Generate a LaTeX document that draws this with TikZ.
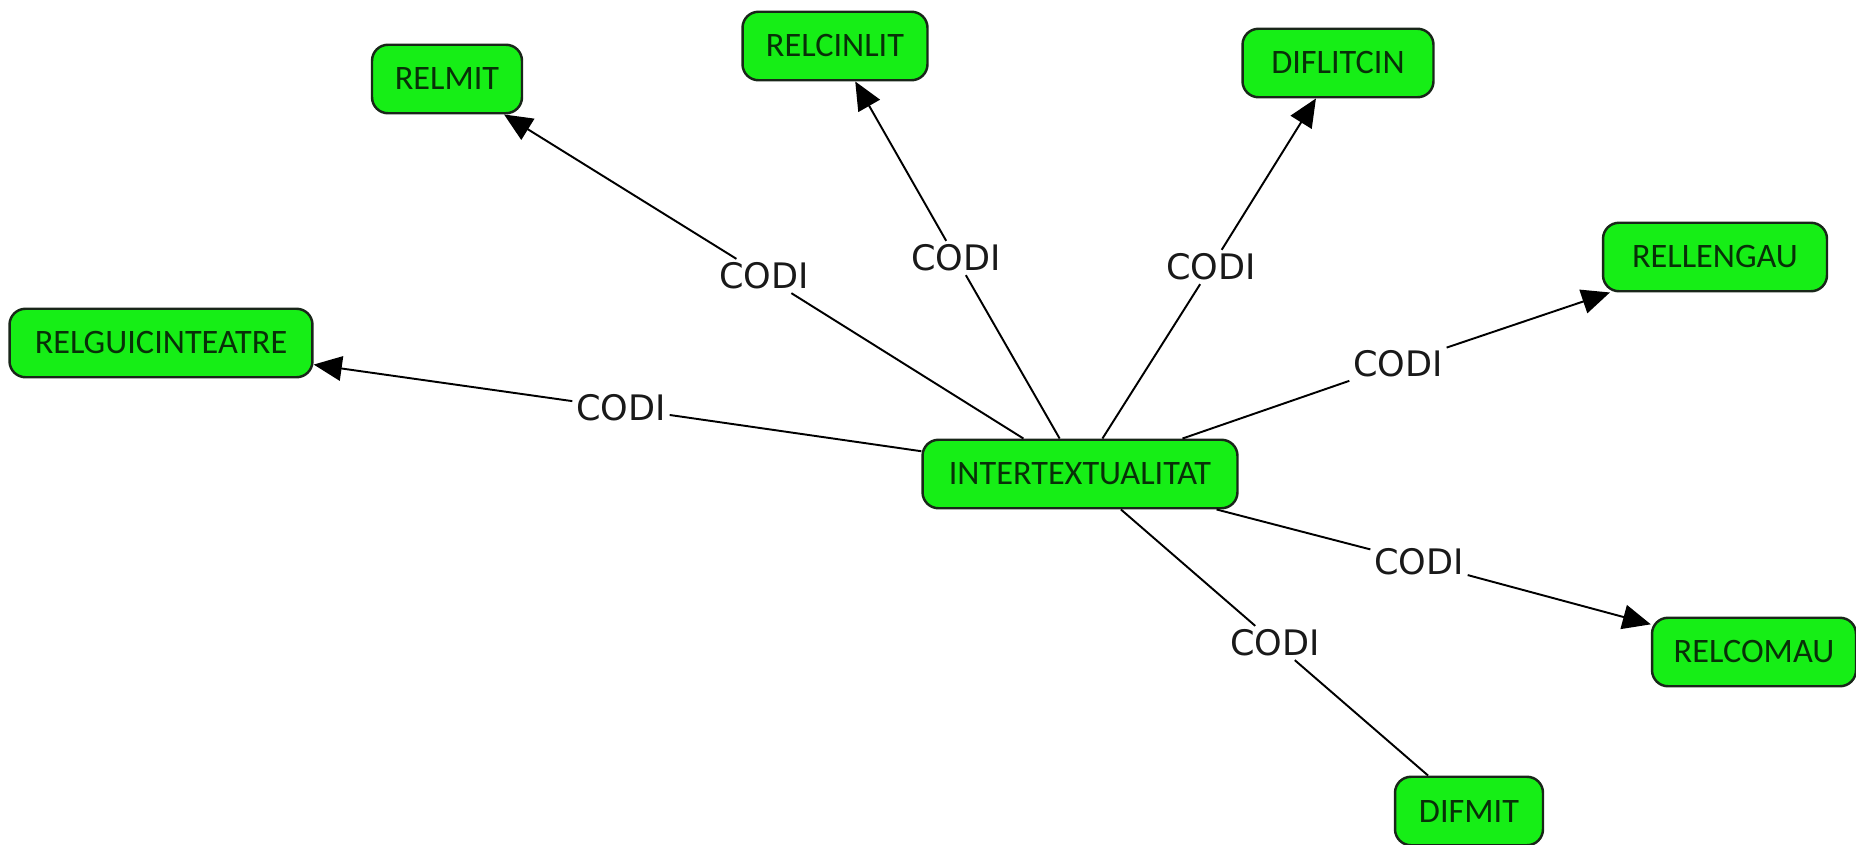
\documentclass[tikz,border=0pt]{standalone}
\usepackage{fontspec}
\setmainfont{Carlito}
\newfontfamily\labelfont{DejaVu Sans}
\usetikzlibrary{arrows.meta}
\definecolor{conceptfill}{RGB}{22,238,22}
\definecolor{conceptdraw}{RGB}{25,38,25}
\definecolor{concepttext}{RGB}{8,48,8}
\tikzset{
  concept/.style={draw=conceptdraw, fill=conceptfill, line width=1.4pt,
    rounded corners=0.32cm, minimum height=1.37cm, inner sep=0pt,
    text=concepttext, font=\fontsize{19.5}{22}\selectfont},
  linklabel/.style={inner sep=2pt, text=black!90,
    font=\labelfont\fontsize{20}{24}\selectfont},
  link/.style={line width=1.1pt, black},
  linkarrow/.style={link, -{Triangle[length=16pt,width=14pt]}}
}
\begin{document}
\begin{tikzpicture}[x=0.02cm, y=-0.02cm]
  \useasboundingbox (0,0) rectangle (1856,845);

  % concepts
  \node[concept, minimum width=6.3cm]  (c)   at (1080,474) {INTERTEXTUALITAT};
  \node[concept, minimum width=6.06cm] (gui) at (161,343)  {RELGUICINTEATRE};
  \node[concept, minimum width=3.0cm]  (mit) at (447,79)   {RELMIT};
  \node[concept, minimum width=3.7cm]  (cin) at (835,46)   {RELCINLIT};
  \node[concept, minimum width=3.82cm] (dlc) at (1338,63)  {DIFLITCIN};
  \node[concept, minimum width=4.48cm] (len) at (1715,257) {RELLENGAU};
  \node[concept, minimum width=4.08cm] (com) at (1754,652) {RELCOMAU};
  \node[concept, minimum width=2.96cm] (dfm) at (1469,811) {DIFMIT};

  % linking phrases
  \node[linklabel] (lgui) at (621,408)  {CODI};
  \node[linklabel] (lmit) at (764,276)  {CODI};
  \node[linklabel] (lcin) at (956,258)  {CODI};
  \node[linklabel] (ldlc) at (1211,267) {CODI};
  \node[linklabel] (llen) at (1398,364) {CODI};
  \node[linklabel] (lcom) at (1419,562) {CODI};
  \node[linklabel] (ldfm) at (1275,643) {CODI};

  % propositions
  \draw[link] (c) -- (lgui);  \draw[linkarrow] (lgui) -- (gui);
  \draw[link] (c) -- (lmit);  \draw[linkarrow] (lmit) -- (mit);
  \draw[link] (c) -- (lcin);  \draw[linkarrow] (lcin) -- (cin);
  \draw[link] (c) -- (ldlc);  \draw[linkarrow] (ldlc) -- (dlc);
  \draw[link] (c) -- (llen);  \draw[linkarrow] (llen) -- (len);
  \draw[link] (c) -- (lcom);  \draw[linkarrow] (lcom) -- (com);
  \draw[link] (c) -- (ldfm);  \draw[link] (ldfm) -- (dfm);
\end{tikzpicture}
\end{document}
